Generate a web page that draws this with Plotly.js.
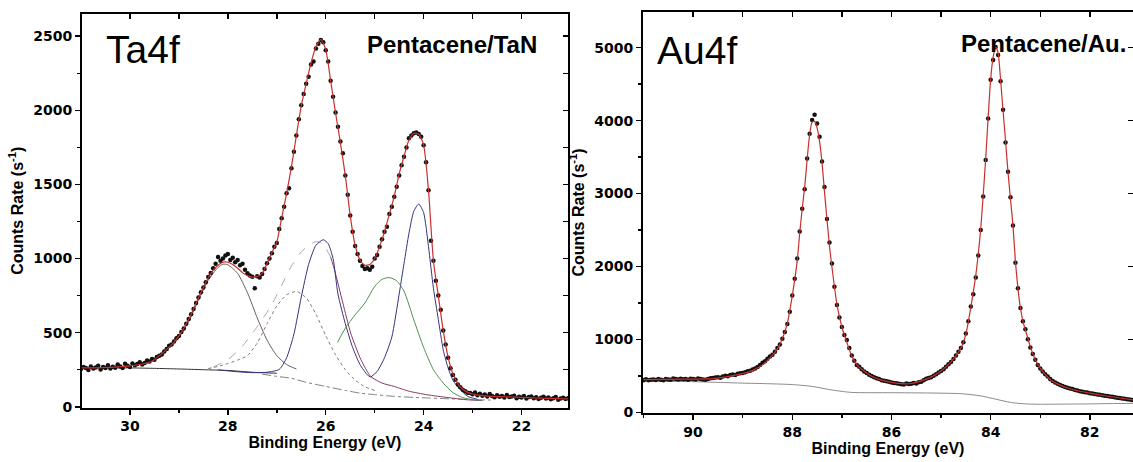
<!DOCTYPE html>
<html>
<head>
<meta charset="utf-8">
<script src="https://cdn.plot.ly/plotly-3.0.1.min.js"></script>
<style>
  html, body { margin: 0; padding: 0; background: #fff; }
  #xps { width: 1133px; height: 462px; }
</style>
</head>
<body>
<div id="xps"></div>
<script>
// ---------- Ta4f, Pentacene/TaN ----------
// measured spectrum: binding energy scan 31.00 -> 21.00 eV, 0.05 eV step
const ta_scan = { start: 31.0, step: -0.05 };
const ta_counts = [
  255, 268, 262, 248, 272, 258, 265, 276, 252, 268,      // 31.00
  262, 280, 258, 270, 264, 285, 272, 262, 290, 276,      // 30.50
  268, 292, 280, 288, 300, 285, 296, 312, 305, 322,      // 30.00
  318, 335, 345, 352, 372, 390, 412, 420, 440, 462,      // 29.50
  478, 505, 528, 560, 592, 625, 660, 700, 738, 772,      // 29.00
  805, 840, 875, 902, 935, 965, 1010, 985, 1000, 1020,   // 28.50
  1030, 990, 1005, 975, 990, 955, 965, 925, 900, 885,    // 28.00
  878, 800, 880, 872, 895, 930, 968, 1000, 1036, 1080,   // 27.50
  1105, 1200, 1272, 1350, 1440, 1475, 1610, 1720, 1830, 1940, // 27.00
  2035, 2110, 2180, 2226, 2310, 2330, 2418, 2450, 2474, 2460, // 26.50
  2406, 2330, 2200, 2091, 1985, 1889, 1790, 1710, 1560, 1430, // 26.00
  1290, 1180, 1085, 1030, 985, 950, 930, 935, 925, 945,  // 25.50
  1000, 1024, 1080, 1130, 1180, 1215, 1300, 1350, 1417, 1484, // 25.00
  1560, 1630, 1687, 1750, 1811, 1830, 1845, 1850, 1840, 1822, // 24.50
  1765, 1650, 1460, 1120, 985, 850, 750, 654, 515, 420,  // 24.00
  330, 260, 215, 182, 150, 132, 115, 105, 95, 92,        // 23.50
  85, 96, 78, 88, 74, 82, 70, 86, 72, 65,                // 23.00
  78, 68, 72, 62, 80, 66, 70, 75, 58, 68,                // 22.50
  62, 72, 56, 66, 70, 58, 64, 52, 60, 68,                // 22.00
  55, 62, 50, 58, 66, 48, 56, 60, 52, 58,                // 21.50
  55                                                     // 21.00
];

// envelope of the peak fit, 31.0 -> 21.0 eV, 0.1 eV step
const ta_fit_scan = { start: 31.0, step: -0.1 };
const ta_fit = [
  262, 262, 263, 263, 264, 265, 266, 268, 270, 273,
  276, 280, 285, 292, 300, 318, 345, 372, 402, 436,
  478, 530, 590, 660, 735, 805, 870, 920, 955, 975,
  975, 960, 935, 905, 885, 875, 878, 900, 965, 1040,
  1110, 1275, 1440, 1620, 1830, 2030, 2180, 2320, 2430, 2478,
  2410, 2200, 1985, 1780, 1560, 1290, 1090, 990, 955, 960,
  1000, 1080, 1180, 1300, 1420, 1570, 1690, 1800, 1845, 1840,
  1765, 1460, 985, 750, 515, 335, 220, 155, 118, 97,
  86, 79, 75, 72, 70, 69, 68, 67, 66, 65,
  63, 62, 60, 59, 58, 57, 56, 55, 54, 53,
  52
];

// background
const ta_bg_be = [31.0, 30.5, 30.0, 29.5, 29.0, 28.5, 28.0, 27.5, 27.0];
const ta_bg    = [262, 262, 262, 259, 255, 250, 245, 233, 226];
const ta_bg2_be = [27.3, 27.0, 26.7, 26.4, 26.0, 25.6, 25.3, 25.0, 24.6, 24.2, 23.9, 23.5, 23.0, 22.6];
const ta_bg2    = [220, 205, 192, 165, 137, 110, 92, 82, 70, 63, 59, 54, 48, 45];

// fitted components
const ta_c1_be = [29.8, 29.6, 29.4, 29.2, 29.0, 28.8, 28.6, 28.4, 28.2, 28.1, 28.0, 27.8, 27.6, 27.4, 27.2, 27.0, 26.8, 26.6];
const ta_c1    = [283, 298, 335, 400, 468, 575, 720, 855, 940, 962, 958, 900, 770, 600, 450, 345, 285, 255];

const ta_c2_be = [28.4, 28.2, 28.0, 27.8, 27.6, 27.4, 27.2, 27.0, 26.8, 26.6, 26.4, 26.2, 26.0, 25.8, 25.6, 25.4, 25.2, 25.0];
const ta_c2    = [258, 272, 292, 315, 345, 430, 560, 680, 755, 778, 735, 625, 480, 350, 250, 180, 135, 110];

const ta_c3a_be = [28.3, 28.0, 27.7, 27.4, 27.1, 26.9, 26.7, 26.5, 26.3, 26.2, 26.1, 26.0, 25.9];
const ta_c3a    = [268, 318, 410, 540, 690, 820, 950, 1045, 1100, 1114, 1105, 1070, 1010];
const ta_c3b_be = [25.9, 25.82, 25.65, 25.49, 25.28, 25.08, 24.85, 24.6, 24.3, 23.93, 23.5, 23.11, 22.8];
const ta_c3b    = [1010, 923, 700, 497, 317, 204, 160, 137, 105, 81, 62, 47, 42];

const ta_c4_be = [28.2, 27.8, 27.5, 27.2, 26.95, 26.8, 26.65, 26.5, 26.35, 26.2, 26.05, 25.95, 25.85, 25.75, 25.6, 25.45, 25.3, 25.15, 25.08];
const ta_c4    = [249, 236, 230, 233, 252, 330, 490, 740, 960, 1090, 1127, 1100, 1000, 760, 560, 400, 285, 215, 200];

const ta_c5_be = [25.08, 24.95, 24.8, 24.65, 24.5, 24.4, 24.3, 24.2, 24.1, 24.0, 23.9, 23.8, 23.7, 23.6, 23.5, 23.4, 23.25, 23.1, 22.9];
const ta_c5    = [200, 238, 330, 470, 760, 968, 1170, 1320, 1368, 1310, 1080, 800, 590, 385, 262, 178, 115, 70, 50];

const ta_c6_be = [25.76, 25.6, 25.4, 25.2, 25.0, 24.85, 24.7, 24.55, 24.4, 24.2, 24.0, 23.8, 23.6, 23.4, 23.2, 23.0, 22.8];
const ta_c6    = [434, 530, 620, 700, 812, 860, 872, 850, 780, 586, 400, 250, 160, 95, 62, 48, 42];

// ---------- Au4f, Pentacene/Au ----------
// measured spectrum: 91.00 -> 81.15 eV, 0.05 eV step
const au_scan = { start: 91.0, step: -0.05 };
const au_counts = [
  440, 452, 438, 445, 450, 442, 455, 447, 440, 458,      // 91.00
  450, 445, 462, 455, 448, 460, 452, 458, 447, 460,      // 90.50
  455, 448, 462, 455, 450, 445, 458, 466, 470, 478,      // 90.00
  482, 475, 492, 500, 495, 512, 518, 510, 528, 535,      // 89.50
  540, 548, 562, 570, 585, 600, 620, 650, 680, 700,      // 89.00
  735, 765, 790, 830, 880, 930, 1010, 1100, 1210, 1380,  // 88.50
  1600, 1830, 2110, 2480, 2790, 3060, 3480, 3820, 4010, 4080, // 88.00
  3960, 3780, 3440, 3090, 2650, 2330, 2040, 1720, 1470, 1300, // 87.50
  1170, 1060, 990, 880, 780, 705, 650, 625, 590, 560,    // 87.00
  540, 515, 498, 480, 468, 455, 440, 432, 425, 418,      // 86.50
  410, 402, 398, 392, 386, 380, 395, 388, 392, 400,      // 86.00
  395, 412, 420, 440, 460, 470, 482, 500, 520, 545,      // 85.50
  565, 590, 625, 660, 690, 730, 780, 830, 880, 960,      // 85.00
  1080, 1250, 1450, 1620, 1850, 2150, 2500, 2960, 3460, 4030, // 84.50
  4560, 4830, 5010, 4900, 4540, 4150, 3700, 3300, 2950, 2560, // 84.00
  2050, 1700, 1430, 1250, 1140, 1000, 890, 800, 720, 650, // 83.50
  600, 560, 520, 490, 455, 430, 410, 390, 375, 360,      // 83.00
  345, 335, 325, 318, 305, 300, 290, 282, 275, 270,      // 82.50
  262, 258, 250, 245, 240, 232, 228, 222, 218, 212,      // 82.00
  205, 200, 196, 190, 185, 180, 176, 170                 // 81.50
];

const au_fit_be = [91.0, 90.5, 90.0, 89.6, 89.3, 89.0, 88.8, 88.6, 88.45, 88.3, 88.2, 88.1, 88.0, 87.9, 87.85,
  87.8, 87.75, 87.7, 87.65, 87.6, 87.55, 87.5, 87.45, 87.4, 87.35, 87.3, 87.25, 87.2, 87.1, 87.0, 86.9, 86.8,
  86.7, 86.6, 86.4, 86.2, 86.0, 85.8, 85.6, 85.4, 85.2, 85.0, 84.8, 84.6, 84.5, 84.4, 84.3, 84.25, 84.2, 84.15,
  84.1, 84.05, 84.0, 83.95, 83.9, 83.85, 83.8, 83.75, 83.7, 83.65, 83.6, 83.55, 83.5, 83.45, 83.4, 83.35, 83.3,
  83.2, 83.1, 83.0, 82.8, 82.6, 82.4, 82.2, 82.0, 81.8, 81.6, 81.4, 81.13];
const au_fit = [448, 452, 455, 462, 490, 530, 575, 650, 745, 870, 1010, 1220, 1600, 2080, 2460,
  2790, 3090, 3470, 3810, 3980, 3990, 3900, 3720, 3420, 3020, 2640, 2280, 1990, 1480, 1170, 960, 770,
  655, 590, 495, 440, 410, 392, 395, 430, 482, 565, 690, 880, 1070, 1440, 1880, 2170, 2520, 2980,
  3480, 4050, 4570, 4870, 5010, 4930, 4560, 4140, 3720, 3290, 2920, 2560, 2060, 1700, 1430, 1250, 1130,
  900, 720, 605, 450, 372, 322, 288, 262, 238, 216, 196, 170];

const au_bg_be = [91.0, 90.0, 89.5, 89.0, 88.5, 88.0, 87.6, 87.2, 86.8, 86.0, 85.2, 84.6, 84.2, 83.9, 83.6, 83.3, 83.0, 82.5, 82.0, 81.5, 81.13];
const au_bg    = [430, 420, 410, 400, 392, 380, 355, 305, 272, 268, 264, 255, 225, 180, 135, 115, 110, 112, 115, 120, 122];

// ---------- helpers ----------
function scanEnergies(scan, n) {
  const out = [];
  for (let i = 0; i < n; i++) out.push(+(scan.start + scan.step * i).toFixed(3));
  return out;
}

const W = 1133, H = 462;
const px = v => v / W;          // horizontal pixel -> paper
const py = v => 1 - v / H;      // vertical pixel -> paper

const tickFont  = { family: 'DejaVu Sans, Arial, sans-serif', size: 14, color: '#000', weight: 'bold' };
const titleFont = { family: 'Liberation Sans, Arial, sans-serif', size: 16, color: '#000', weight: 'bold' };
const labelFont = (size, weight) => ({ family: 'Liberation Sans, Arial, sans-serif', size: size, color: '#000', weight: weight });

function curve(x, y, xa, ya, color, width, dash) {
  return { type: 'scatter', mode: 'lines', x: x, y: y, xaxis: xa, yaxis: ya,
           line: { color: color, width: width, dash: dash || 'solid', shape: 'spline', smoothing: 0.6 },
           hoverinfo: 'skip', showlegend: false };
}
function dots(x, y, xa, ya) {
  return { type: 'scatter', mode: 'markers', x: x, y: y, xaxis: xa, yaxis: ya,
           marker: { color: '#111', size: 4.5 }, hoverinfo: 'skip', showlegend: false };
}
function blank(xa, ya) {
  return { type: 'scatter', mode: 'markers', x: [], y: [], xaxis: xa, yaxis: ya, hoverinfo: 'skip', showlegend: false };
}

const ta_be = scanEnergies(ta_scan, ta_counts.length);
const ta_fit_be = scanEnergies(ta_fit_scan, ta_fit.length);
const au_be = scanEnergies(au_scan, au_counts.length);

const traces = [
  // Ta4f components
  curve(ta_bg_be, ta_bg, 'x', 'y', '#333', 1),
  curve(ta_bg2_be, ta_bg2, 'x', 'y', '#808080', 1, 'dashdot'),
  curve(ta_c1_be, ta_c1, 'x', 'y', '#6e5a64', 1),
  curve(ta_c2_be, ta_c2, 'x', 'y', '#7a7a7a', 1, 'dot'),
  curve(ta_c3a_be, ta_c3a, 'x', 'y', '#a8a8a8', 1, 'dash'),
  curve(ta_c3b_be, ta_c3b, 'x', 'y', '#8b3a62', 1),
  curve(ta_c4_be, ta_c4, 'x', 'y', '#34347e', 1),
  curve(ta_c5_be, ta_c5, 'x', 'y', '#34347e', 1),
  curve(ta_c6_be, ta_c6, 'x', 'y', '#4f8f4f', 1),
  dots(ta_be, ta_counts, 'x', 'y'),
  curve(ta_fit_be, ta_fit, 'x', 'y', '#c8302c', 1.2),
  // Au4f
  curve(au_bg_be, au_bg, 'x2', 'y2', '#8a8a8a', 1),
  dots(au_be, au_counts, 'x2', 'y2'),
  curve(au_fit_be, au_fit, 'x2', 'y2', '#c8302c', 1.2),
  // mirrored frame axes
  blank('x3', 'y'), blank('x', 'y3'), blank('x4', 'y2'), blank('x2', 'y4')
];

const frame = { showline: true, linewidth: 2, linecolor: '#000', showgrid: false, zeroline: false,
                tickcolor: '#000', tickwidth: 1.5, tickfont: tickFont };

const taX = [30.98, 21.05], taY = [-5, 2650];
const auX = [91.01, 81.13], auY = [-10, 5490];

const layout = {
  width: W, height: H,
  margin: { l: 0, r: 0, t: 0, b: 0 },
  paper_bgcolor: '#fff', plot_bgcolor: '#fff',
  showlegend: false,
  xaxis: Object.assign({}, frame, {
    domain: [px(82), px(568)], anchor: 'y', range: taX,
    ticks: 'outside', ticklen: 5, tick0: 0, dtick: 2,
    minor: { ticks: 'outside', dtick: 1, ticklen: 3, tickwidth: 1.5, tickcolor: '#000' },
    title: { text: 'Binding Energy (eV)', font: titleFont, standoff: 4 }
  }),
  yaxis: Object.assign({}, frame, {
    domain: [py(407.5), py(14)], anchor: 'x', range: taY,
    ticks: 'outside', ticklen: 5, tick0: 0, dtick: 500,
    minor: { ticks: 'outside', dtick: 250, ticklen: 3, tickwidth: 1.5, tickcolor: '#000' },
    title: { text: 'Counts Rate (s<sup>-1</sup>)', font: titleFont, standoff: 6 }
  }),
  xaxis3: Object.assign({}, frame, {
    overlaying: 'x', anchor: 'y', side: 'top', range: taX,
    ticks: 'inside', ticklen: 5, tick0: 0, dtick: 1, showticklabels: false
  }),
  yaxis3: Object.assign({}, frame, {
    overlaying: 'y', anchor: 'x', side: 'right', range: taY,
    ticks: 'inside', ticklen: 5, tick0: 0, dtick: 250, showticklabels: false
  }),
  xaxis2: Object.assign({}, frame, {
    domain: [px(643), 1], anchor: 'y2', range: auX,
    ticks: 'outside', ticklen: 5, tick0: 0, dtick: 2,
    minor: { ticks: 'outside', dtick: 1, ticklen: 3, tickwidth: 1.5, tickcolor: '#000' },
    title: { text: 'Binding Energy (eV)', font: titleFont, standoff: 4 }
  }),
  yaxis2: Object.assign({}, frame, {
    domain: [py(413), py(12)], anchor: 'x2', range: auY,
    ticks: 'outside', ticklen: 5, tick0: 0, dtick: 1000,
    minor: { ticks: 'outside', dtick: 500, ticklen: 3, tickwidth: 1.5, tickcolor: '#000' },
    title: { text: 'Counts Rate (s<sup>-1</sup>)', font: titleFont, standoff: 6 }
  }),
  xaxis4: Object.assign({}, frame, {
    overlaying: 'x2', anchor: 'y2', side: 'top', range: auX,
    ticks: 'inside', ticklen: 5, tick0: 0, dtick: 1, showticklabels: false
  }),
  yaxis4: Object.assign({}, frame, {
    overlaying: 'y2', anchor: 'x2', side: 'right', range: auY, showline: false,
    ticks: 'inside', ticklen: 5, tick0: 0, dtick: 1000, showticklabels: false
  }),
  annotations: [
    { text: 'Ta4f', xref: 'paper', yref: 'paper', x: px(104), y: py(49), xanchor: 'left', yanchor: 'middle',
      showarrow: false, font: labelFont(39, 'normal') },
    { text: 'Pentacene/TaN', xref: 'paper', yref: 'paper', x: px(365), y: py(44), xanchor: 'left', yanchor: 'middle',
      showarrow: false, font: labelFont(24, 'bold') },
    { text: 'Au4f', xref: 'paper', yref: 'paper', x: px(655), y: py(51), xanchor: 'left', yanchor: 'middle',
      showarrow: false, font: labelFont(39, 'normal') },
    { text: 'Pentacene/Au.', xref: 'paper', yref: 'paper', x: px(959), y: py(43), xanchor: 'left', yanchor: 'middle',
      showarrow: false, font: labelFont(24, 'bold') }
  ]
};

Plotly.newPlot('xps', traces, layout, { staticPlot: true, displayModeBar: false });
</script>
</body>
</html>
